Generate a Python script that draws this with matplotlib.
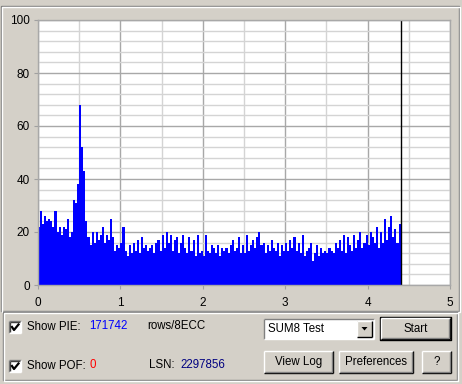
import numpy as np
import matplotlib.pyplot as plt
from matplotlib.patches import Rectangle, Polygon

plt.rcParams['font.family'] = ['Liberation Sans', 'DejaVu Sans']
ui_size = 8.3

# PIE values per 0.025 step, 0 .. 4.4
pie_0_06 = [22, 28, 23, 26, 24, 25, 24, 22, 28, 20, 22, 19,
            22, 21, 25, 18, 20, 32, 31, 38, 68, 52, 43, 24]
pie_06_10 = [18, 15, 20, 16, 20, 17, 19, 22, 16, 19, 17, 25, 18, 13, 15, 14]
pie_10_15 = [16, 22, 13, 11, 15, 12, 16, 13, 17, 12, 18, 14, 15, 13, 14, 15, 12, 16, 17, 13]
pie_15_20 = [19, 14, 20, 16, 19, 13, 17, 18, 12, 16, 19, 14, 12, 18, 13, 17, 11, 19, 12, 13]
pie_20_25 = [11, 19, 13, 12, 15, 14, 12, 15, 11, 14, 13, 14, 12, 15, 17, 13, 14, 18, 12, 15]
pie_25_30 = [12, 19, 13, 15, 17, 14, 18, 20, 15, 16, 12, 15, 13, 17, 14, 13, 16, 11, 15, 13]
pie_30_35 = [16, 13, 17, 14, 18, 13, 16, 12, 19, 11, 13, 14, 16, 9, 12, 15, 11, 14, 12, 13]
pie_35_40 = [12, 14, 13, 12, 16, 14, 17, 13, 19, 12, 18, 15, 13, 19, 14, 17, 20, 14, 16, 19]
pie_40_44 = [15, 20, 18, 16, 22, 14, 20, 16, 25, 17, 22, 26, 18, 21, 16, 23]

pie = (pie_0_06 + pie_06_10 + pie_10_15 + pie_15_20 + pie_20_25 +
       pie_25_30 + pie_30_35 + pie_35_40 + pie_40_44)
step = 0.025
pos = np.arange(len(pie)) * step
end_pos = 4.4

x_ticks = [0, 1, 2, 3, 4, 5]
y_ticks = [0, 20, 40, 60, 80, 100]

pie_total = '171742'
pof_total = '0'
lsn = '2297856'

W, H = 462, 384
bg = '#d4d0c8'
fig = plt.figure(figsize=(W / 100, H / 100), dpi=100, facecolor=bg)

# chart
ax = fig.add_axes([38 / W, 1 - 285 / H, 412 / W, 265 / H])
ax.set_facecolor('white')
ax.set_xlim(0, 5)
ax.set_ylim(0, 100)
ax.set_xticks(x_ticks)
ax.set_yticks(y_ticks)
ax.set_xticks(np.arange(0, 5.01, 0.5), minor=True)
ax.set_yticks(np.arange(0, 100.1, 4), minor=True)
ax.grid(which='minor', color='#d4d4d4', lw=1)
ax.grid(which='major', color='#a8a8a8', lw=1)
ax.set_axisbelow(True)
ax.tick_params(which='minor', length=0)
ax.tick_params(which='major', length=3, color='#a0a0a0', labelsize=8.5,
               labelcolor='black')
ax.tick_params(axis='x', pad=6)
ax.tick_params(axis='y', pad=3)
for s in ax.spines.values():
    s.set_color('#a8a8a8')
    s.set_linewidth(1)

ax.bar(pos, pie, width=step, align='edge', color='#0000ff', linewidth=0)
ax.axvline(end_pos, color='black', lw=1)

# window chrome overlay in pixel coordinates
ov = fig.add_axes([0, 0, 1, 1], zorder=-1)
ov.set_xlim(0, W)
ov.set_ylim(H, 0)
ov.axis('off')


def line(xs, ys, c, lw=1):
    ov.plot(xs, ys, color=c, lw=lw, solid_capstyle='butt')


def label(x, y, s, color='black', ha='left'):
    ov.text(x, y, s, va='center', ha=ha, fontsize=ui_size, color=color)


def groove(x0, y0, x1, y1):
    line([x0, x1, x1, x0, x0], [y0, y0, y1, y1, y0], '#808080')
    line([x0 + 1, x1 + 1, x1 + 1, x0 + 1, x0 + 1],
         [y0 + 1, y0 + 1, y1 + 1, y1 + 1, y0 + 1], 'white')


groove(1, 6, 459, 311)
groove(3, 312, 457, 380)


def button(x0, y0, x1, y1, text, default=False):
    ov.add_patch(Rectangle((x0, y0), x1 - x0, y1 - y0, fc=bg, ec='none'))
    if default:
        line([x0, x1, x1, x0, x0], [y0, y0, y1, y1, y0], 'black')
        x0, y0, x1, y1 = x0 + 1, y0 + 1, x1 - 1, y1 - 1
    line([x0, x1], [y0, y0], 'white')
    line([x0, x0], [y0, y1], 'white')
    line([x0, x1], [y1, y1], 'black')
    line([x1, x1], [y0, y1], 'black')
    line([x0 + 1, x1 - 1], [y1 - 1, y1 - 1], '#808080')
    line([x1 - 1, x1 - 1], [y0 + 1, y1 - 1], '#808080')
    label((x0 + x1) / 2, (y0 + y1) / 2, text, ha='center')


def checkbox(x0, y0):
    ov.add_patch(Rectangle((x0, y0), 12, 12, fc='white', ec='none'))
    line([x0, x0 + 12], [y0, y0], '#808080')
    line([x0, x0], [y0, y0 + 12], '#808080')
    line([x0 + 1, x0 + 11], [y0 + 1, y0 + 1], '#404040')
    line([x0 + 1, x0 + 1], [y0 + 1, y0 + 11], '#404040')
    line([x0, x0 + 12], [y0 + 12, y0 + 12], 'white')
    line([x0 + 12, x0 + 12], [y0, y0 + 12], 'white')
    ov.plot([x0 + 3, x0 + 5, x0 + 9.5], [y0 + 6, y0 + 9, y0 + 3.5],
            color='black', lw=1.6)


checkbox(9, 321)
checkbox(9, 360)

label(27, 327, 'Show PIE:')
label(89, 326, pie_total, color='#0000ff')
label(147, 326, 'rows/8ECC')
label(27, 366, 'Show POF:')
label(89, 365, pof_total, color='#ff0000')
label(149, 365, 'LSN:')
label(180, 365, lsn, color='#000080')

# combo box
ov.add_patch(Rectangle((264, 319), 110, 20, fc='white', ec='none'))
line([264, 374], [319, 319], '#808080')
line([264, 264], [319, 339], '#808080')
line([264, 374], [339, 339], 'white')
line([374, 374], [319, 339], 'white')
label(268, 329.5, 'SUM8 Test')
ov.add_patch(Rectangle((357, 321), 15, 16, fc=bg, ec='none'))
line([357, 372], [321, 321], 'white')
line([357, 357], [321, 337], 'white')
line([357, 372], [337, 337], 'black')
line([372, 372], [321, 337], 'black')
ov.add_patch(Polygon([[361.5, 327], [367.5, 327], [364.5, 330.5]], fc='black', ec='none'))

button(380, 317, 451, 340, 'Start', default=True)
button(264, 351, 333, 373, 'View Log')
button(339, 351, 413, 373, 'Preferences')
button(422, 351, 451, 373, '?')

fig.savefig('out.png', dpi=100, facecolor=bg)
